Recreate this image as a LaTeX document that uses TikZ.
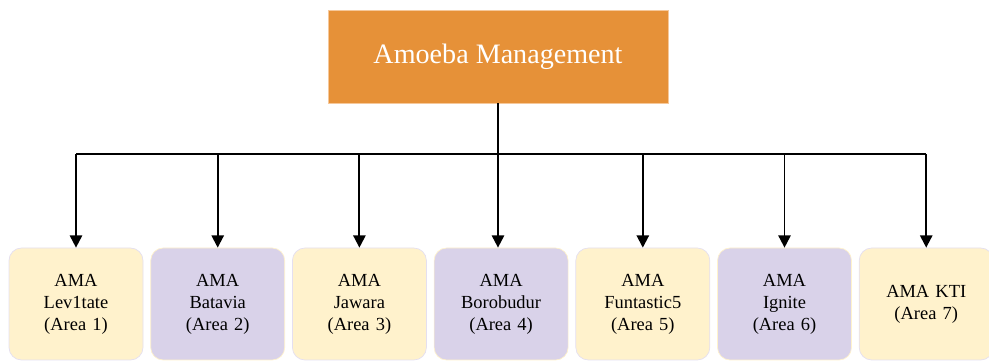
\documentclass[tikz,border=0pt]{standalone}
\usepackage{fontspec}
\setmainfont{Liberation Serif}
\usetikzlibrary{arrows.meta,positioning,calc}
\definecolor{amaorange}{HTML}{E69138}
\definecolor{amaedge}{HTML}{F6C89A}
\definecolor{amayellow}{HTML}{FFF2CC}
\definecolor{amapurple}{HTML}{D9D2E9}
\tikzstyle{head} = [rectangle, minimum width=6.8cm, minimum height=1.86cm, text centered, draw=amaedge, fill=amaorange, text=white, font=\fontsize{16}{19}\selectfont]
\tikzstyle{area} = [rectangle, rounded corners=0.25cm, minimum width=2.68cm, minimum height=2.24cm, text width=2.4cm, align=center, font=\fontsize{10.5}{12.5}\selectfont]
\tikzstyle{ylw} = [area, fill=amayellow, draw=amapurple!70]
\tikzstyle{prp} = [area, fill=amapurple, draw=amayellow]
\tikzstyle{arrow} = [line width=1.1pt,-{Triangle[width=7pt,length=7pt]}]
\tikzstyle{bus} = [line width=1.1pt]

\begin{document}
\begin{tikzpicture}
\useasboundingbox (0,0) rectangle (19.78,7.28);
\node (amoeba) [head] at (9.96,6.15) {Amoeba Management};
\node (a1) [ylw] at (1.52,1.2) {AMA\\Lev1tate\\(Area 1)};
\node (a2) [prp, right=0.14cm of a1] {AMA\\Batavia\\(Area 2)};
\node (a3) [ylw, right=0.14cm of a2] {AMA\\Jawara\\(Area 3)};
\node (a4) [prp, right=0.14cm of a3] {AMA\\Borobudur\\(Area 4)};
\node (a5) [ylw, right=0.14cm of a4] {AMA\\Funtastic5\\(Area 5)};
\node (a6) [prp, right=0.14cm of a5] {AMA\\Ignite\\(Area 6)};
\node (a7) [ylw, right=0.14cm of a6] {AMA KTI\\(Area 7)};
\coordinate (split) at (0,4.2);

% trunk and bus
\draw [arrow] (amoeba.south) -- (amoeba.south |- a4.north);
\draw [bus] (a1.north |- split) -- (a7.north |- split);
\foreach \n in {a1,a2,a3,a5,a6,a7}
  \draw [arrow] (\n.north |- split) -- (\n.north);
\end{tikzpicture}
\end{document}
